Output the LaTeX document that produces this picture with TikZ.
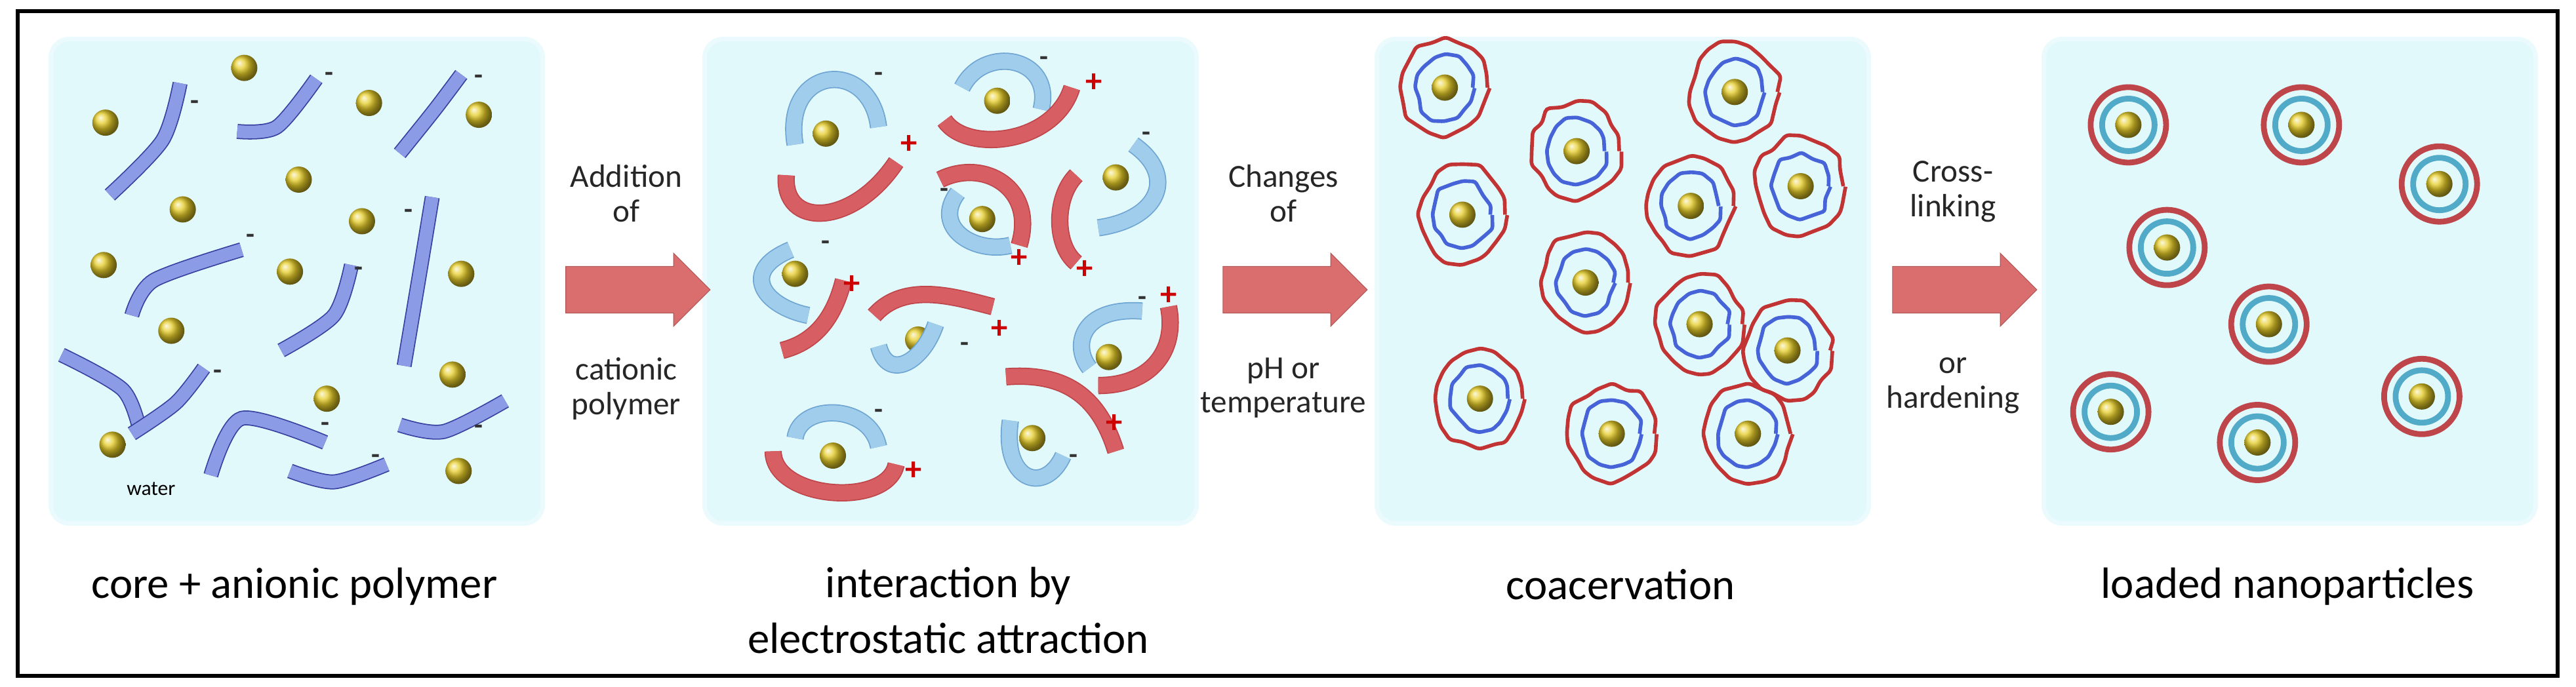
\documentclass[tikz,border=0pt]{standalone}
\usepackage{fontspec}
\setmainfont{Carlito}
\usetikzlibrary{positioning,shapes.arrows,shapes.geometric,decorations.pathmorphing}
\definecolor{panelfill}{RGB}{226,249,252}
\definecolor{ribbonfill}{RGB}{140,155,230}
\definecolor{ribbonedge}{RGB}{55,65,160}
\definecolor{lightfill}{RGB}{160,205,235}
\definecolor{lightedge}{RGB}{110,165,210}
\definecolor{redfill}{RGB}{215,95,100}
\definecolor{rededge}{RGB}{190,70,75}
\definecolor{coreyellow}{RGB}{230,205,40}
\definecolor{arrowred}{RGB}{218,110,110}
\definecolor{shellblue}{RGB}{70,100,215}
\definecolor{ringblue}{RGB}{80,170,200}
\begin{document}
\begin{tikzpicture}
  \tikzstyle{panel}=[fill=panelfill,draw=panelfill!70!white,line width=2pt,rounded corners=8pt]
  \tikzstyle{core}=[circle,inner sep=0pt,minimum size=0.4cm,shading=ball,ball color=coreyellow]
  \tikzstyle{ribbon}=[draw=ribbonedge,line width=0.5pt,double=ribbonfill,double distance=5.5pt]
  \tikzstyle{aribbon}=[draw=lightedge,line width=0.5pt,double=lightfill,double distance=6.5pt]
  \tikzstyle{cribbon}=[draw=rededge,line width=0.5pt,double=redfill,double distance=6.5pt]
  \tikzstyle{minus}=[font=\bfseries\large,text=black!80]
  \tikzstyle{plus}=[font=\bfseries\Large,text=red!80!black]
  \tikzstyle{process}=[single arrow,fill=arrowred,draw=arrowred!80!black,line width=0.3pt,inner xsep=0pt,
    inner ysep=0.35cm,minimum height=2.2cm,single arrow head extend=0.2cm]
  \tikzstyle{processtext}=[font=\fontsize{14}{17}\selectfont,text=black!85,align=center]
  \tikzstyle{captiontext}=[font=\fontsize{19}{24}\selectfont,align=center]
  \tikzstyle{shellout}=[ellipse,draw=red!70!black!80,line width=1.6pt,minimum width=1.3cm,minimum height=1.45cm,
    decorate,decoration={random steps,segment length=6pt,amplitude=1.6pt},rounded corners=1.5pt]
  \tikzstyle{shellin}=[ellipse,draw=shellblue,line width=1.6pt,minimum width=0.85cm,minimum height=0.95cm,
    decorate,decoration={random steps,segment length=5pt,amplitude=1.2pt},rounded corners=1pt]
  \tikzstyle{redring}=[circle,draw=rededge,line width=2.5pt,minimum size=1.15cm]
  \tikzstyle{bluering}=[circle,draw=ringblue,line width=2.5pt,minimum size=0.8cm]
  \pgfmathsetseed{7}
  \useasboundingbox (0,0) rectangle (39.28,10.48);
  \draw[line width=1.8pt] (0.27,0.17) rectangle (39.0,10.31);

  % panels
  \foreach \name/\x in {1/0.74,2/10.71,3/20.96,4/31.13}
    \node[panel,anchor=south west,minimum width=7.5cm,minimum height=7.39cm] (panel-\name) at (\x,2.46) {};

  % arrows and their labels
  \node[process] (step-1) at (9.55,6.06) {};
  \node[process] (step-2) at (19.57,6.06) {};
  \node[process] (step-3) at (29.78,6.06) {};
  \node[processtext,above=0.55cm of step-1] (up-1) {Addition\\[-2pt]of};
  \node[processtext,below=0.55cm of step-1] (down-1) {cationic\\[-2pt]polymer};
  \node[processtext,above=0.55cm of step-2] (up-2) {Changes\\[-2pt]of};
  \node[processtext,below=0.55cm of step-2] (down-2) {pH or\\[-2pt]temperature};
  \node[processtext,above=0.55cm of step-3] (up-3) {Cross-\\[-2pt]linking};
  \node[processtext,below=0.55cm of step-3] (down-3) {or\\[-2pt]hardening};

  % captions
  \node[captiontext] (cap-1) at (4.49,1.53) {core + anionic polymer};
  \node[captiontext,anchor=north] (cap-2) at (14.46,1.95) {interaction by\\electrostatic attraction};
  \node[captiontext] (cap-3) at (24.71,1.56) {coacervation};
  \node[captiontext] (cap-4) at (34.88,1.53) {loaded nanoparticles};

  \begin{scope}[shift={(0,10.48)},x={(0.01339cm,0)},y={(0,-0.00668cm)}]
    % core + anionic polymer
    \foreach \x/\y [count=\i] in {278/155,120/280,420/235,545/262,340/410,208/478,412/505,118/605,
        330/620,525/625,195/755,515/855,372/910,128/1015,522/1075}
      \node[core] (a-\i) at (\x,\y) {};
    \draw[ribbon] plot[smooth] coordinates {(205,190) (185,320) (125,445)};
    \draw[ribbon] plot[smooth] coordinates {(270,300) (315,290) (360,180)};
    \draw[ribbon] plot[smooth] coordinates {(525,170) (495,250) (455,350)};
    \draw[ribbon] plot[smooth] coordinates {(150,720) (175,640) (275,570)};
    \draw[ribbon] plot[smooth] coordinates {(400,605) (380,720) (320,800)};
    \draw[ribbon] plot[smooth] coordinates {(492,450) (478,620) (460,835)};
    \draw[ribbon] plot[smooth] coordinates {(70,810) (140,890) (160,990)};
    \draw[ribbon] plot[smooth] coordinates {(150,990) (200,920) (232,840)};
    \draw[ribbon] plot[smooth] coordinates {(240,1085) (275,955) (370,1010)};
    \draw[ribbon] plot[smooth] coordinates {(455,970) (505,985) (575,915)};
    \draw[ribbon] plot[smooth] coordinates {(330,1075) (380,1100) (440,1060)};
    \foreach \x/\y in {222/240,375/175,545/182,285/545,408/620,465/488,248/855,370/975,545/980,428/1048}
      \node[minus] at (\x,\y) {-};
    \node[font=\small] (water) at (172,1115) {water};

    % interaction by electrostatic attraction
    \foreach \x/\y [count=\i] in {940/305,1135/230,1270/405,1118/500,905/625,1045/775,1262/815,948/1040,1175/1000}
      \node[core] (b-\i) at (\x,\y) {};
    \draw[aribbon] (905,330) .. controls (890,150) and (990,130) .. (1000,290);
    \draw[aribbon] (1095,200) .. controls (1120,100) and (1200,130) .. (1185,250);
    \draw[aribbon] (1290,330) .. controls (1340,400) and (1320,500) .. (1250,520);
    \draw[aribbon] (1090,440) .. controls (1060,520) and (1110,580) .. (1150,560);
    \draw[aribbon] (900,570) .. controls (840,620) and (870,700) .. (920,720);
    \draw[aribbon] (1065,740) .. controls (1050,830) and (1010,870) .. (1000,790);
    \draw[aribbon] (1300,710) .. controls (1230,700) and (1220,790) .. (1240,840);
    \draw[aribbon] (1000,1020) .. controls (990,920) and (910,920) .. (905,1000);
    \draw[aribbon] (1150,960) .. controls (1140,1100) and (1190,1130) .. (1210,1040);
    \draw[cribbon] (895,400) .. controls (890,520) and (970,520) .. (1020,370);
    \draw[cribbon] (1075,275) .. controls (1100,350) and (1200,330) .. (1220,200);
    \draw[cribbon] (1070,410) .. controls (1120,360) and (1180,430) .. (1160,560);
    \draw[cribbon] (1225,400) .. controls (1200,450) and (1200,560) .. (1225,600);
    \draw[cribbon] (960,640) .. controls (950,720) and (930,780) .. (890,800);
    \draw[cribbon] (995,720) .. controls (1030,640) and (1090,680) .. (1130,700);
    \draw[cribbon] (1330,700) .. controls (1340,800) and (1310,880) .. (1250,880);
    \draw[cribbon] (1145,860) .. controls (1210,850) and (1250,900) .. (1270,1030);
    \draw[cribbon] (880,1030) .. controls (880,1140) and (1010,1160) .. (1020,1060);
    \foreach \x/\y in {1000/175,1188/140,1305/312,1075/440,940/560,1098/792,1300/688,1000/945,1222/1048}
      \node[minus] at (\x,\y) {-};
    \foreach \x/\y in {1035/330,1245/190,1160/590,1235/615,970/650,1138/752,1330/675,1268/968,1040/1075}
      \node[plus] at (\x,\y) {+};
  \end{scope}

  \begin{scope}[shift={(18.28,10.48)},x={(0.01339cm,0)},y={(0,-0.00668cm)}]
    % coacervation
    \foreach \x/\y [count=\i] in {280/200,430/345,610/210,300/490,560/470,685/425,440/645,570/740,
        670/800,320/910,470/990,625/990}
    {
      \node[shellout] (c-\i) at (\x,\y) {};
      \node[shellin] (s-\i) at (\x,\y) {};
      \node[core] (k-\i) at (\x,\y) {};
    }
    % loaded nanoparticles
    \foreach \x/\y [count=\i] in {1058/285,1255/285,1412/420,1102/565,1218/740,1392/905,1038/940,1205/1010}
    {
      \node[redring] (n-\i) at (\x,\y) {};
      \node[bluering] (m-\i) at (\x,\y) {};
      \node[core] (p-\i) at (\x,\y) {};
    }
  \end{scope}
\end{tikzpicture}
\end{document}
